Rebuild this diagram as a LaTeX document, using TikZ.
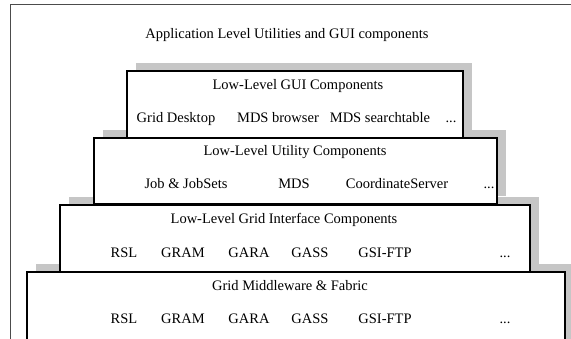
\documentclass[tikz,border=0pt]{standalone}
\usepackage{fontspec}
\setmainfont{Liberation Serif}
\usetikzlibrary{shadows}
\begin{document}
\begin{tikzpicture}[x=1pt,y=-1pt,
  layer/.style={draw=black, line width=2.2pt, fill=white, anchor=north west,
    inner sep=0pt, outer sep=0pt,
    general shadow={fill=gray!45, shadow xshift=9pt, shadow yshift=8pt}},
  lbl/.style={font=\fontsize{14.5}{17}\selectfont, inner sep=0pt, anchor=base}]
\useasboundingbox (0,0) rectangle (571,338);
\clip (0,0) rectangle (571,338);
\node[draw=black!70, line width=1.3pt, anchor=north west, minimum width=620pt,
      minimum height=400pt, inner sep=0pt] (frame) at (10,4) {};
% layers, bottom first
\node[layer, minimum width=538pt, minimum height=100pt] (fabric) at (27,272) {};
\node[layer, minimum width=470pt, minimum height=67pt] (gridif) at (60,205) {};
\node[layer, minimum width=403pt, minimum height=66pt] (util) at (94,138) {};
\node[layer, minimum width=336pt, minimum height=67pt] (gui) at (127,71) {};
% texts
\node[lbl] (app) at (287,38) {Application Level Utilities and GUI components};
\node[lbl] (guiT) at (298,89) {Low-Level GUI Components};
\node[lbl] (gd) at (176,122) {Grid Desktop};
\node[lbl] (mb) at (278,122) {MDS browser};
\node[lbl] (ms) at (380,122) {MDS searchtable};
\node[lbl] (gdots) at (451,122) {...};
\node[lbl] (utilT) at (295,155) {Low-Level Utility Components};
\node[lbl] (job) at (186,188) {Job \& JobSets};
\node[lbl] (mds) at (294,188) {MDS};
\node[lbl] (cs) at (397,188) {CoordinateServer};
\node[lbl] (udots) at (489,188) {...};
\node[lbl] (gridT) at (284,223) {Low-Level Grid Interface Components};
\node[lbl] (rsl1) at (124,257) {RSL};
\node[lbl] (gram1) at (183,257) {GRAM};
\node[lbl] (gara1) at (249,257) {GARA};
\node[lbl] (gass1) at (310,257) {GASS};
\node[lbl] (ftp1) at (385,257) {GSI-FTP};
\node[lbl] (idots) at (505,257) {...};
\node[lbl] (fabT) at (290,290) {Grid Middleware \& Fabric};
\node[lbl] (rsl2) at (124,323) {RSL};
\node[lbl] (gram2) at (183,323) {GRAM};
\node[lbl] (gara2) at (249,323) {GARA};
\node[lbl] (gass2) at (310,323) {GASS};
\node[lbl] (ftp2) at (385,323) {GSI-FTP};
\node[lbl] (fdots) at (505,323) {...};
\end{tikzpicture}
\end{document}
